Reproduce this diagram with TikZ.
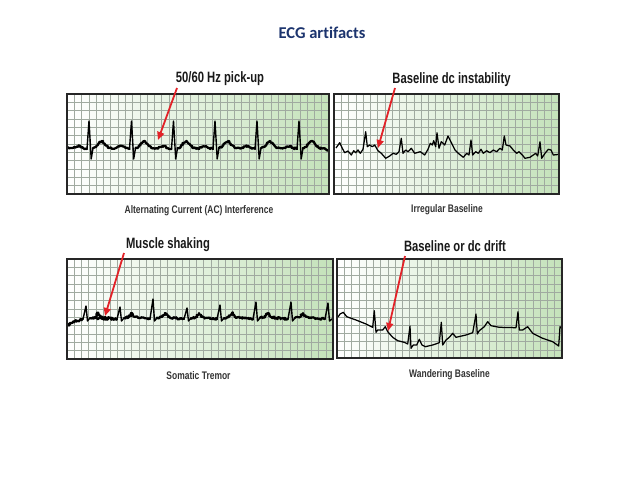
\documentclass[tikz,border=0pt]{standalone}
\usepackage{fontspec}
\setmainfont{Liberation Sans}
\newfontfamily\condf[FakeStretch=0.75]{Liberation Sans}
\newfontfamily\capf[FakeStretch=0.77]{Liberation Sans}
\newfontfamily\titlef[Ligatures=NoCommon]{Carlito}
\usetikzlibrary{arrows.meta,decorations.pathmorphing}
\definecolor{gridc}{RGB}{160,170,160}
\definecolor{paperg}{RGB}{196,226,186}
\definecolor{arrowred}{RGB}{226,34,40}
\definecolor{titleblue}{RGB}{28,52,110}
\newcommand\ecgpanel[6]{%
  \shade[panelbg] (#1,#2) rectangle (#3,#4);
  \pgfmathsetmacro\gdx{(#3-#1)/#5}
  \pgfmathsetmacro\gdy{(#4-#2)/#6}
  \pgfmathtruncatemacro\gnc{#5-1}
  \pgfmathtruncatemacro\gnr{#6-1}
  \foreach \k in {1,...,\gnc} \draw[gridline] ({#1+\k*\gdx},#2) -- ({#1+\k*\gdx},#4);
  \foreach \k in {1,...,\gnr} \draw[gridline] (#1,{#2+\k*\gdy}) -- (#3,{#2+\k*\gdy});
}
\begin{document}
\begin{tikzpicture}[x=1pt,y=-1pt,
  panelbg/.style={left color=white,right color=paperg},
  gridline/.style={gridc,line width=0.5pt},
  frame/.style={draw=black!85,line width=1.5pt},
  spike/.style={line width=1.4pt,line join=round,line cap=round},
  noisy/.style={line width=2.3pt,line join=round,line cap=round,decorate,decoration={random steps,segment length=1pt,amplitude=0.8pt}},
  tremor/.style={line width=2.2pt,line join=round,line cap=round,decorate,decoration={random steps,segment length=0.8pt,amplitude=1.1pt}},
  thintrace/.style={line width=1.25pt,line join=round},
  redarrow/.style={arrowred,line width=1.8pt,-{Triangle[length=8pt,width=7pt]}},
  lab/.style={font=\condf\bfseries\fontsize{15}{17}\selectfont,text=black!90,inner sep=0},
  capt/.style={font=\capf\bfseries\fontsize{11}{13}\selectfont,text=black!80,inner sep=0},
]
\useasboundingbox[fill=white] (0,0) rectangle (638,479);

\node[font=\titlef\bfseries\fontsize{16.5}{19}\selectfont,text=titleblue] (title) at (322,33) {ECG artifacts};

% panels
\ecgpanel{67}{94}{329}{194}{36}{12}
\ecgpanel{334}{94}{559}{194}{31}{12}
\ecgpanel{67}{259}{333}{359}{37}{12}
\ecgpanel{337}{259}{562}{358}{31}{12}

% Panel 1 trace: AC interference
\draw[noisy] (67,147) -- (73,148);
\foreach \r in {89,131.5,173.5,215,257,299} {
  \draw[noisy] ({\r-16},148) -- ({\r-12},146.5) -- ({\r-9},146) -- ({\r-6},148) -- ({\r-2},149);
  \draw[spike] ({\r-2},149) -- (\r,121) -- ({\r+2.2},159) -- ({\r+4},148);
  \draw[noisy] ({\r+4},148) -- ({\r+7},147) -- ({\r+10},143) -- ({\r+13},141) -- ({\r+16},144)
    -- ({\r+20},148) -- ({\r+26},148.5);
}
\draw[noisy] (325,148.5) -- (329,151);

% Panel 2 trace: irregular baseline
\draw[thintrace] (336,148) -- (339.7,142.7) -- (342.3,148.3) -- (344.7,152.7) -- (348,151) -- (351.3,155)
  -- (353.7,150.7) -- (355.7,152.7) -- (358,150) -- (360.3,153.3) -- (363,149.3) -- (365.7,131.7)
  -- (367.3,146.7) -- (369.7,145) -- (372.3,146.7) -- (374.7,145) -- (378,150.7) -- (381.3,153.3)
  -- (385.7,158.3) -- (389.7,156) -- (393,153.3) -- (396.3,154.3) -- (399,151.7) -- (401.3,138.3)
  -- (403,153.3) -- (405.7,150) -- (408,151.7) -- (411.3,148.3) -- (414.7,153.3) -- (420.3,151.7)
  -- (424.7,155) -- (428,149.3) -- (430.3,143.3) -- (432.3,145) -- (433.7,140.7) -- (435.7,146.7)
  -- (437,132.7) -- (439,148.3) -- (441.3,141.7) -- (444.7,145) -- (448,136) -- (451.7,143.3)
  -- (455,150) -- (458.3,153.3) -- (463.3,157.3) -- (466.7,153.3) -- (469,155) -- (471,140)
  -- (472.7,155) -- (475.7,151.7) -- (478.3,153.3) -- (481,149.3) -- (483.3,153.3) -- (486.7,150.7)
  -- (490,152.7) -- (493.3,150) -- (496.7,151.7) -- (500,148.3) -- (502.3,150) -- (504.3,136)
  -- (506,145) -- (510,146) -- (513.3,150) -- (516.7,153.3) -- (519,151.7) -- (522.3,155)
  -- (525,158.3) -- (530,157.3) -- (533.3,155) -- (535.7,153.3) -- (537.7,156) -- (540,141.7)
  -- (541.7,158.3) -- (545,153.3) -- (548.3,149.3) -- (551,150) -- (553.3,155) -- (558,154.5);

% Panel 3 trace: somatic tremor
\draw[tremor] (68,325) -- (75,321) -- (80,320) -- (83,319);
\foreach \r/\t in {86/306,120/307,153/299,187/308,220/305,256/302,291/302} {
  \draw[spike] ({\r-3},319) -- (\r,\t) -- ({\r+1.5},321) -- ({\r+4},318);
  \draw[tremor] ({\r+4},318) -- ({\r+9},317) -- ({\r+12},313) -- ({\r+15},317) -- ({\r+20},318)
    -- ({\r+27},318.5);
}
\draw[tremor] (93,318.5) -- (117,319);
\draw[tremor] (147,318.5) -- (150,319);
\draw[tremor] (180,318.5) -- (184,319);
\draw[tremor] (214,318.5) -- (217,319);
\draw[tremor] (247,318.5) -- (253,319);
\draw[tremor] (283,318.5) -- (288,319);
\draw[tremor] (318,318.5) -- (325,319);
\draw[spike] (325,319) -- (328,303) -- (329.5,321) -- (332,319);

% Panel 4 trace: wandering baseline
\draw[thintrace] (338,317) -- (340,314) -- (343.3,312.3) -- (346.7,316.7) -- (356,320) -- (366,324)
  -- (372.7,327.3) -- (374.3,310.7) -- (376,332.3) -- (377.7,330) -- (382.7,330) -- (385.3,326.7)
  -- (387.7,331.7) -- (392.7,337.3) -- (397.7,340.7) -- (404.3,342.3) -- (407.7,344) -- (410,326)
  -- (411,348.3) -- (413.3,345) -- (416.7,345) -- (419.3,339.3) -- (422,345) -- (425.3,346.7)
  -- (432.7,345) -- (439.3,342.7) -- (441.3,322.3) -- (442.7,345) -- (446,340) -- (449.3,337.3)
  -- (452.7,333.3) -- (456,337.3) -- (466,335) -- (472.7,332.7) -- (476,314) -- (477.3,334)
  -- (479.3,330.7) -- (484.3,326.7) -- (487.7,321.7) -- (491,325.7) -- (499.3,327.3) -- (516,327.7)
  -- (518,311.7) -- (519.3,330) -- (522.7,330) -- (527.7,326.7) -- (532.7,333.3) -- (542.7,338.3)
  -- (552.7,341.7) -- (558.7,346) -- (560,326.7) -- (561,328);

% frames
\draw[frame] (67,94) rectangle (329,194);
\draw[frame] (334,94) rectangle (559,194);
\draw[frame] (67,259) rectangle (333,359);
\draw[frame] (337,259) rectangle (562,358);

% labels
\node[lab] (l1) at (220,79) {50/60 Hz pick-up};
\node[lab] (l2) at (451.5,80) {Baseline dc instability};
\node[lab] (l3) at (168,245) {Muscle shaking};
\node[lab] (l4) at (455,246) {Baseline or dc drift};

\node[capt] (c1) at (199,211) {Alternating Current (AC) Interference};
\node[capt] (c2) at (447,210) {Irregular Baseline};
\node[capt] (c3) at (198.5,376) {Somatic Tremor};
\node[capt] (c4) at (449.5,375) {Wandering Baseline};

% arrows
\coordinate (a1s) at (177,88);  \coordinate (a1t) at (158,140);
\coordinate (a2s) at (395,88);  \coordinate (a2t) at (378,148);
\coordinate (a3s) at (124,253); \coordinate (a3t) at (105,316);
\coordinate (a4s) at (405,256); \coordinate (a4t) at (388,331);
\draw[redarrow] (a1s) -- (a1t);
\draw[redarrow] (a2s) -- (a2t);
\draw[redarrow] (a3s) -- (a3t);
\draw[redarrow] (a4s) -- (a4t);
\end{tikzpicture}
\end{document}
